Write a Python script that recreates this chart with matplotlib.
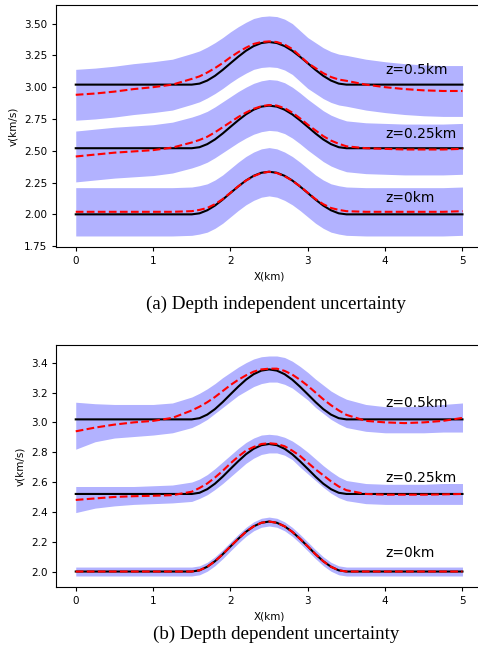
import matplotlib
matplotlib.use('Agg')
import matplotlib.pyplot as plt
import numpy as np

x_km = [0, 0.25, 0.5, 0.75, 1.0, 1.25, 1.5, 1.6, 1.7, 1.8, 1.9, 2.0, 2.1, 2.2, 2.3, 2.4, 2.5,
        2.6, 2.7, 2.8, 2.9, 3.0, 3.1, 3.2, 3.3, 3.4, 3.5, 3.75, 4.0, 4.25, 4.5, 4.75, 5.0]

depth_labels = ['z=0km', 'z=0.25km', 'z=0.5km']
label_y = [2.1, 2.6, 3.1]

# true velocity at each depth
true_z0 = [2.0, 2.0, 2.0, 2.0, 2.0, 2.0, 2.0, 2.008, 2.032, 2.069, 2.116, 2.168, 2.219, 2.266, 2.303, 2.327, 2.335,
           2.327, 2.303, 2.266, 2.219, 2.168, 2.116, 2.069, 2.032, 2.008, 2.0, 2.0, 2.0, 2.0, 2.0, 2.0, 2.0]
true_z25 = [2.52, 2.52, 2.52, 2.52, 2.52, 2.52, 2.52, 2.528, 2.552, 2.589, 2.636, 2.688, 2.739, 2.786, 2.823, 2.847, 2.855,
            2.847, 2.823, 2.786, 2.739, 2.688, 2.636, 2.589, 2.552, 2.528, 2.52, 2.52, 2.52, 2.52, 2.52, 2.52, 2.52]
true_z50 = [3.02, 3.02, 3.02, 3.02, 3.02, 3.02, 3.02, 3.028, 3.052, 3.089, 3.136, 3.188, 3.239, 3.286, 3.323, 3.347, 3.355,
            3.347, 3.323, 3.286, 3.239, 3.188, 3.136, 3.089, 3.052, 3.028, 3.02, 3.02, 3.02, 3.02, 3.02, 3.02, 3.02]

# (a) depth independent uncertainty: posterior mean and band half width
mean_a_z0 = [2.02, 2.02, 2.02, 2.02, 2.02, 2.02, 2.025, 2.035, 2.05, 2.08, 2.12, 2.17, 2.22, 2.265, 2.30, 2.325, 2.335,
             2.325, 2.30, 2.265, 2.22, 2.17, 2.12, 2.08, 2.05, 2.035, 2.025, 2.02, 2.02, 2.02, 2.02, 2.02, 2.025]
mean_a_z25 = [2.455, 2.47, 2.485, 2.495, 2.505, 2.525, 2.565, 2.585, 2.61, 2.645, 2.685, 2.725, 2.765, 2.80, 2.83, 2.85, 2.86,
              2.855, 2.835, 2.80, 2.755, 2.705, 2.66, 2.615, 2.58, 2.555, 2.535, 2.52, 2.515, 2.51, 2.51, 2.51, 2.515]
mean_a_z50 = [2.94, 2.95, 2.965, 2.985, 3.00, 3.02, 3.065, 3.085, 3.115, 3.15, 3.19, 3.235, 3.275, 3.31, 3.34, 3.355, 3.36,
              3.355, 3.335, 3.30, 3.245, 3.19, 3.15, 3.11, 3.08, 3.06, 3.05, 3.02, 3.0, 2.985, 2.975, 2.97, 2.97]
halfwidth_a = [0.19, 0.2, 0.2]

# (b) depth dependent uncertainty: posterior mean and band edges
mean_b_z0 = true_z0
lo_b_z0 = [1.97, 1.97, 1.97, 1.97, 1.97, 1.97, 1.97, 1.978, 2.002, 2.039, 2.086, 2.138, 2.189, 2.236, 2.273, 2.297, 2.305,
           2.297, 2.273, 2.236, 2.189, 2.138, 2.086, 2.039, 2.002, 1.978, 1.97, 1.97, 1.97, 1.97, 1.97, 1.97, 1.97]
hi_b_z0 = [2.03, 2.03, 2.03, 2.03, 2.03, 2.03, 2.03, 2.038, 2.062, 2.099, 2.146, 2.198, 2.249, 2.296, 2.333, 2.357, 2.365,
           2.357, 2.333, 2.296, 2.249, 2.198, 2.146, 2.099, 2.062, 2.038, 2.03, 2.03, 2.03, 2.03, 2.03, 2.03, 2.03]
mean_b_z25 = [2.48, 2.49, 2.50, 2.505, 2.508, 2.512, 2.535, 2.56, 2.59, 2.63, 2.675, 2.725, 2.77, 2.81, 2.835, 2.855, 2.86,
              2.855, 2.84, 2.81, 2.775, 2.73, 2.685, 2.645, 2.605, 2.57, 2.545, 2.52, 2.515, 2.515, 2.515, 2.517, 2.52]
lo_b_z25 = [2.395, 2.425, 2.44, 2.45, 2.455, 2.46, 2.47, 2.49, 2.515, 2.55, 2.59, 2.635, 2.68, 2.725, 2.76, 2.785, 2.795,
            2.795, 2.78, 2.75, 2.70, 2.655, 2.61, 2.565, 2.525, 2.495, 2.475, 2.455, 2.45, 2.45, 2.45, 2.45, 2.45]
hi_b_z25 = [2.57, 2.57, 2.57, 2.57, 2.575, 2.58, 2.60, 2.62, 2.65, 2.69, 2.735, 2.78, 2.825, 2.865, 2.895, 2.915, 2.92,
            2.915, 2.90, 2.875, 2.84, 2.80, 2.755, 2.71, 2.67, 2.635, 2.61, 2.59, 2.585, 2.585, 2.585, 2.59, 2.59]
mean_b_z50 = [2.94, 2.965, 2.985, 3.0, 3.01, 3.03, 3.08, 3.105, 3.135, 3.17, 3.21, 3.25, 3.285, 3.315, 3.34, 3.355, 3.36,
              3.36, 3.345, 3.32, 3.285, 3.245, 3.20, 3.155, 3.115, 3.08, 3.05, 3.01, 3.0, 2.995, 3.0, 3.01, 3.03]
lo_b_z50 = [2.82, 2.87, 2.895, 2.905, 2.915, 2.93, 2.965, 2.99, 3.02, 3.06, 3.10, 3.14, 3.18, 3.21, 3.24, 3.26, 3.27,
            3.27, 3.255, 3.23, 3.19, 3.15, 3.10, 3.06, 3.02, 2.99, 2.965, 2.94, 2.93, 2.93, 2.93, 2.935, 2.935]
hi_b_z50 = [3.135, 3.125, 3.12, 3.12, 3.12, 3.13, 3.17, 3.195, 3.225, 3.26, 3.30, 3.335, 3.37, 3.40, 3.425, 3.44, 3.445,
            3.445, 3.435, 3.41, 3.375, 3.335, 3.29, 3.25, 3.21, 3.18, 3.155, 3.12, 3.105, 3.105, 3.11, 3.12, 3.13]

x = np.array(x_km)
trues = [true_z0, true_z25, true_z50]
means_a = [mean_a_z0, mean_a_z25, mean_a_z50]
means_b = [mean_b_z0, mean_b_z25, mean_b_z50]
lows_b = [lo_b_z0, lo_b_z25, lo_b_z50]
highs_b = [hi_b_z0, hi_b_z25, hi_b_z50]

fig = plt.figure(figsize=(4.78, 6.60), dpi=100)
# right edge of the axes runs past the picture edge, as in the cropped original
ax_a = fig.add_axes([0.118, 0.6258, 0.890, 0.3667])
ax_b = fig.add_axes([0.118, 0.1106, 0.890, 0.3667])

for i in range(3):
    m = np.array(means_a[i])
    ax_a.fill_between(x, m - halfwidth_a[i], m + halfwidth_a[i], color='blue', alpha=0.3, lw=0)
    ax_a.plot(x, trues[i], 'k-', lw=1.5)
    ax_a.plot(x, m, 'r--', lw=1.5)
    ax_a.text(4, label_y[i], depth_labels[i], fontsize=10)

    ax_b.fill_between(x, lows_b[i], highs_b[i], color='blue', alpha=0.3, lw=0)
    ax_b.plot(x, trues[i], 'k-', lw=1.5)
    ax_b.plot(x, means_b[i], 'r--', lw=1.5)
    ax_b.text(4, label_y[i], depth_labels[i], fontsize=10)

for ax in [ax_a, ax_b]:
    ax.set_xlim(-0.25, 5.25)
    ax.set_xlabel('X(km)', fontsize=7.5)
    ax.set_ylabel('v(km/s)', fontsize=7.5)
    ax.tick_params(labelsize=7.5, length=3)

# captions under each panel
fig.text(0.578, 0.539, '(a) Depth independent uncertainty', family='Liberation Serif',
         fontsize=13.7, ha='center', va='center')
fig.text(0.578, 0.039, '(b) Depth dependent uncertainty', family='Liberation Serif',
         fontsize=13.7, ha='center', va='center')

fig.savefig('out.png', dpi=100)
